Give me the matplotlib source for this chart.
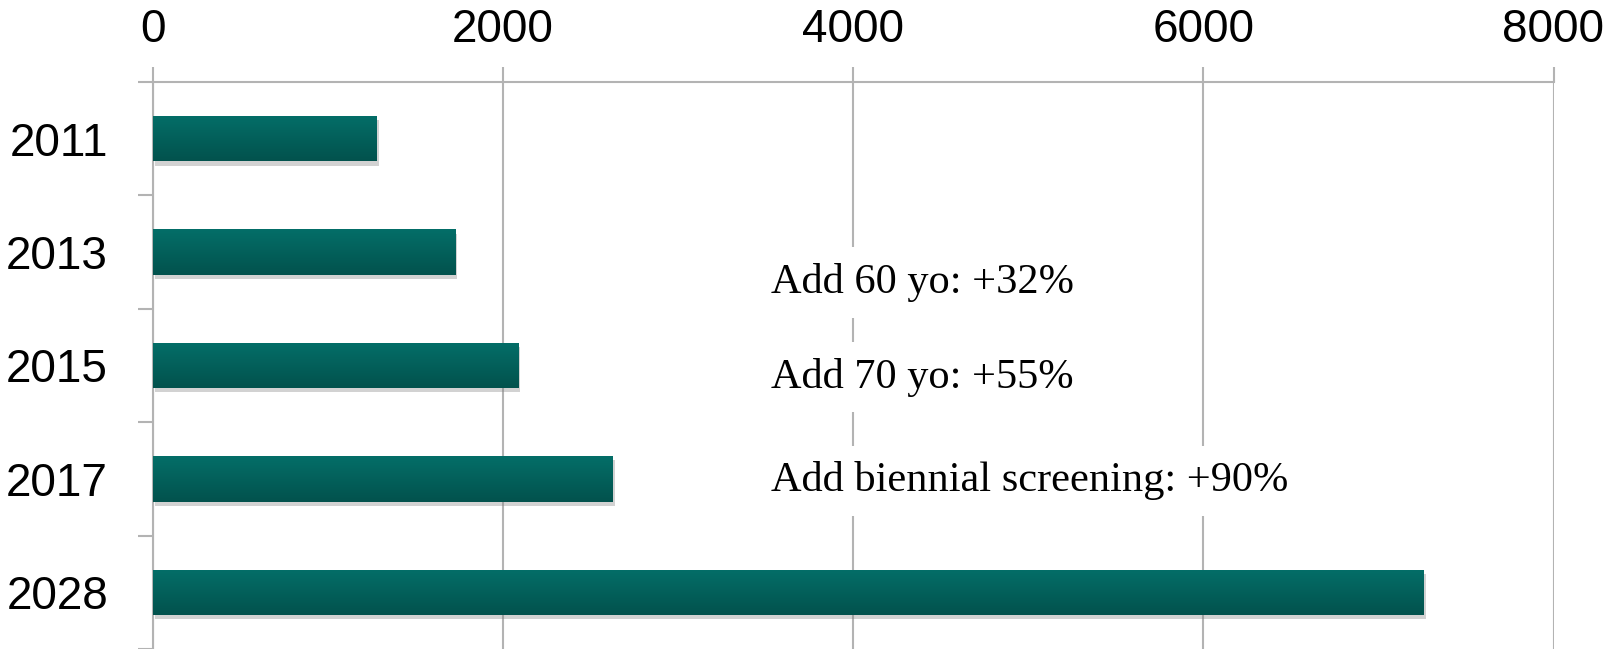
import numpy as np
import matplotlib
matplotlib.use("Agg")
import matplotlib.pyplot as plt
from matplotlib import patheffects as pe
from matplotlib.colors import LinearSegmentedColormap

# ---- data ----
years = ["2011", "2013", "2015", "2017", "2028"]
values = [1275, 1725, 2085, 2625, 7255]
x_ticks = [0, 2000, 4000, 6000, 8000]
notes = ["Add 60 yo: +32%", "Add 70 yo: +55%", "Add biennial screening: +90%"]

# ---- layout ----
W, H, DPI = 1611, 649, 100
fig = plt.figure(figsize=(W / DPI, H / DPI), dpi=DPI)
ax = fig.add_axes([152.5 / W, 0.0, (1553.5 - 152.5) / W, 1 - 82 / H])

grid_col = "#B3B3B3"
pos = np.arange(len(years))
bars = ax.barh(pos, values, height=0.4, color="#03615C", zorder=3,
               path_effects=[pe.SimplePatchShadow(offset=(2, -3), shadow_rgbFace="#808080", alpha=0.35),
                             pe.Normal()])

# vertical gradient overlay on each bar
grad = np.linspace(0, 1, 64).reshape(-1, 1)
cmap = LinearSegmentedColormap.from_list("teal", ["#046E68", "#02524D"])
for b in bars:
    x0, y0, w, h = b.get_x(), b.get_y(), b.get_width(), b.get_height()
    im = ax.imshow(grad, cmap=cmap, extent=(x0, x0 + w, y0 + h, y0), aspect="auto",
                   zorder=4, interpolation="bicubic")
    im.set_clip_path(b)

ax.set_xlim(0, 8000)
ax.set_ylim(len(years) - 0.5, -0.5)

# x axis on top
ax.xaxis.tick_top()
ax.set_xticks(x_ticks)
ax.set_xticklabels([str(t) for t in x_ticks], fontsize=33, family="Liberation Sans")
ax.tick_params(axis="x", which="major", length=10.5, width=1.5, color=grid_col, pad=11)

# y axis: labels at bar centres, ticks at boundaries
ax.set_yticks(pos)
ax.set_yticklabels(years, fontsize=33, family="Liberation Sans")
ax.set_yticks(np.arange(-0.5, len(years) + 0.5, 1.0), minor=True)
ax.tick_params(axis="y", which="major", length=0, pad=32)
ax.tick_params(axis="y", which="minor", length=10.5, width=1.5, color=grid_col)

for s in ["right", "bottom"]:
    ax.spines[s].set_visible(False)
for s in ["top", "left"]:
    ax.spines[s].set_color(grid_col)
    ax.spines[s].set_linewidth(1.5)

ax.grid(axis="x", color=grid_col, linewidth=1.5, zorder=0)
ax.set_axisbelow(True)

note_x = 3530
note_y = [1.362, 2.196, 3.110]
for t, y in zip(notes, note_y):
    ax.text(note_x, y, t, fontsize=30.5, family="Liberation Serif", va="baseline", ha="left",
            zorder=2, bbox=dict(boxstyle="square,pad=0.37", facecolor="white", edgecolor="none"))

fig.savefig("out.png", dpi=DPI)
